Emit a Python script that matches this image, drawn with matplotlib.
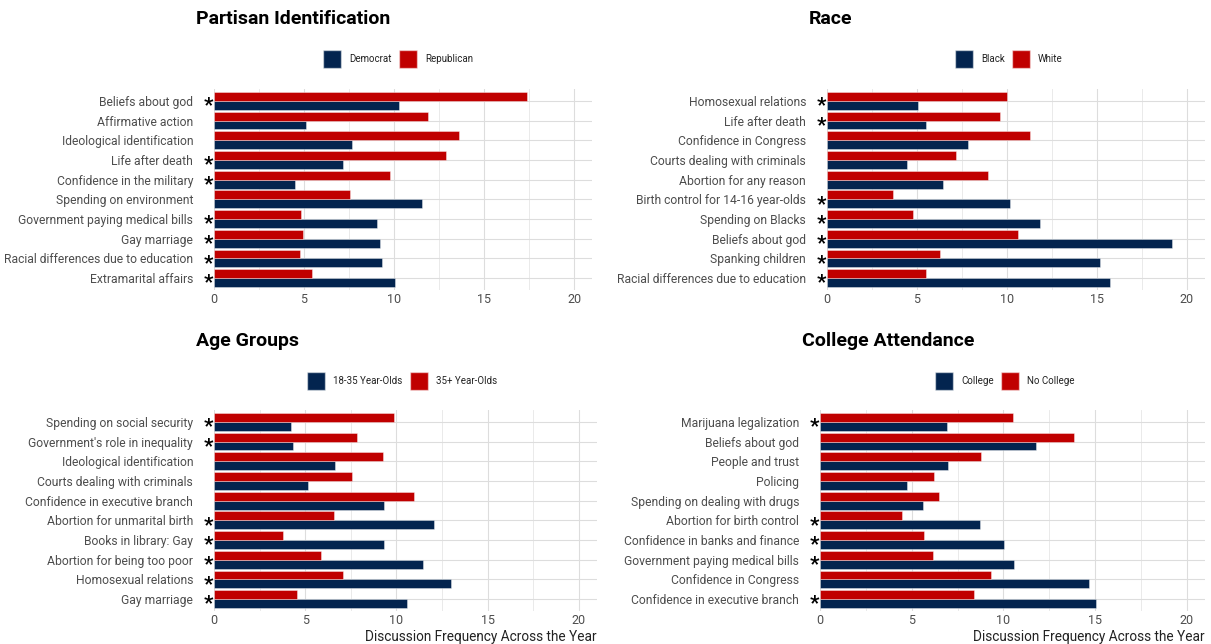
import matplotlib
matplotlib.use('Agg')
import matplotlib.pyplot as plt
from matplotlib.patches import Patch
from matplotlib.ticker import MultipleLocator

plt.rcParams['font.family'] = ['Roboto', 'DejaVu Sans']

NAVY = '#03244f'
RED = '#c00000'
TICK_COLOR = '#4d4d4d'

# ---------------- data ----------------
party_cats = ['Beliefs about god', 'Affirmative action', 'Ideological identification',
              'Life after death', 'Confidence in the military', 'Spending on environment',
              'Government paying medical bills', 'Gay marriage',
              'Racial differences due to education', 'Extramarital affairs']
party_dem = [10.25, 5.1, 7.66, 7.15, 4.52, 11.53, 9.07, 9.21, 9.32, 10.04]
party_rep = [17.4, 11.9, 13.6, 12.87, 9.79, 7.54, 4.84, 4.93, 4.80, 5.46]
party_sig = [True, False, False, True, True, False, True, True, True, True]

race_cats = ['Homosexual relations', 'Life after death', 'Confidence in Congress',
             'Courts dealing with criminals', 'Abortion for any reason',
             'Birth control for 14-16 year-olds', 'Spending on Blacks', 'Beliefs about god',
             'Spanking children', 'Racial differences due to education']
race_black = [5.06, 5.50, 7.81, 4.42, 6.47, 10.17, 11.86, 19.16, 15.19, 15.71]
race_white = [9.98, 9.59, 11.28, 7.19, 8.92, 3.64, 4.76, 10.63, 6.28, 5.52]
race_sig = [True, True, False, False, False, True, True, True, True, True]

age_cats = ['Spending on social security', "Government's role in inequality",
            'Ideological identification', 'Courts dealing with criminals',
            'Confidence in executive branch', 'Abortion for unmarital birth',
            'Books in library: Gay', 'Abortion for being too poor',
            'Homosexual relations', 'Gay marriage']
age_young = [4.24, 4.34, 6.62, 5.14, 9.31, 12.07, 9.31, 11.48, 13.0, 10.6]
age_old = [9.87, 7.85, 9.27, 7.56, 10.96, 6.60, 3.76, 5.85, 7.06, 4.57]
age_sig = [True, True, False, False, False, True, True, True, True, True]

college_cats = ['Marijuana legalization', 'Beliefs about god', 'People and trust', 'Policing',
                'Spending on dealing with drugs', 'Abortion for birth control',
                'Confidence in banks and finance', 'Government paying medical bills',
                'Confidence in Congress', 'Confidence in executive branch']
college_yes = [6.91, 11.79, 6.96, 4.72, 5.62, 8.72, 10.06, 10.6, 14.68, 15.06]
college_no = [10.53, 13.87, 8.77, 6.21, 6.51, 4.49, 5.68, 6.17, 9.32, 8.38]
college_sig = [True, False, False, False, False, True, True, True, False, True]

x_ticks = [0, 5, 10, 15, 20]
x_label = 'Discussion Frequency Across the Year'

# ---------------- figure ----------------
W, H = 1211, 644
fig = plt.figure(figsize=(W / 100, H / 100), dpi=100)


def px_axes(left, top, right, bottom):
    return fig.add_axes([left / W, 1 - bottom / H, (right - left) / W, (bottom - top) / H])


panels = [
    dict(title='Partisan Identification', cats=party_cats, a=party_dem, b=party_rep,
         sig=party_sig, labels=('Democrat', 'Republican'), box=(214, 89, 592, 290),
         title_x=196, title_y=19, legend_cx=398, legend_y=59, xlabel=False),
    dict(title='Race', cats=race_cats, a=race_black, b=race_white,
         sig=race_sig, labels=('Black', 'White'), box=(827, 89, 1205, 290),
         title_x=809, title_y=19, legend_cx=1009, legend_y=59, xlabel=False),
    dict(title='Age Groups', cats=age_cats, a=age_young, b=age_old,
         sig=age_sig, labels=('18-35 Year-Olds', '35+ Year-Olds'), box=(214, 410, 597, 611),
         title_x=196, title_y=341, legend_cx=402, legend_y=381, xlabel=True),
    dict(title='College Attendance', cats=college_cats, a=college_yes, b=college_no,
         sig=college_sig, labels=('College', 'No College'), box=(820, 410, 1205, 611),
         title_x=802, title_y=341, legend_cx=1005, legend_y=381, xlabel=True),
]

bar_h = 0.45
for p in panels:
    ax = px_axes(*p['box'])
    n = len(p['cats'])
    pos = list(range(n))
    ax.barh([i + bar_h / 2 for i in pos], p['a'], height=bar_h, color=NAVY,
            edgecolor=(1, 1, 1, 0.45), linewidth=0.6, zorder=3)
    ax.barh([i - bar_h / 2 for i in pos], p['b'], height=bar_h, color=RED,
            edgecolor=(1, 1, 1, 0.45), linewidth=0.6, zorder=3)
    ax.set_xlim(0, 21)
    ax.set_ylim(n - 0.4, -0.6)
    ax.set_yticks(pos)
    ax.set_yticklabels(p['cats'])
    ax.set_xticks(x_ticks)
    ax.xaxis.set_minor_locator(MultipleLocator(2.5))
    ax.tick_params(axis='both', which='both', length=0, colors=TICK_COLOR, labelsize=8.7)
    ax.tick_params(axis='x', labelsize=9)
    ax.tick_params(axis='y', pad=15)
    ax.tick_params(axis='x', pad=2)
    for s in ax.spines.values():
        s.set_visible(False)
    ax.grid(True, which='major', color='#dddddd', linewidth=0.8, zorder=0)
    ax.grid(True, which='minor', axis='x', color='#e6e6e6', linewidth=0.6, zorder=0)
    ax.set_axisbelow(True)
    for i, s in enumerate(p['sig']):
        if s:
            ax.annotate('*', xy=(0, i), xycoords='data', xytext=(-6, -5),
                        textcoords='offset pixels', ha='center', va='center',
                        fontsize=15, fontweight='bold', color='black',
                        annotation_clip=False)
    if p['xlabel']:
        ax.set_xlabel(x_label, loc='right', fontsize=9.8, color='#222222', labelpad=2)
    fig.text(p['title_x'] / W, 1 - p['title_y'] / H, p['title'], fontsize=14,
             fontweight='bold', ha='left', va='center', color='black')
    handles = [Patch(facecolor=NAVY, edgecolor=(1, 1, 1, 0.5), label=p['labels'][0]),
               Patch(facecolor=RED, edgecolor=(1, 1, 1, 0.5), label=p['labels'][1])]
    ax.legend(handles=handles, ncol=2, loc='center',
              bbox_to_anchor=(p['legend_cx'] / W, 1 - p['legend_y'] / H),
              bbox_transform=fig.transFigure, frameon=False, fontsize=7,
              handlelength=1.85, handleheight=2.47, handletextpad=0.8,
              columnspacing=0.8, labelcolor='#222222')

fig.savefig('out.png', dpi=100)
